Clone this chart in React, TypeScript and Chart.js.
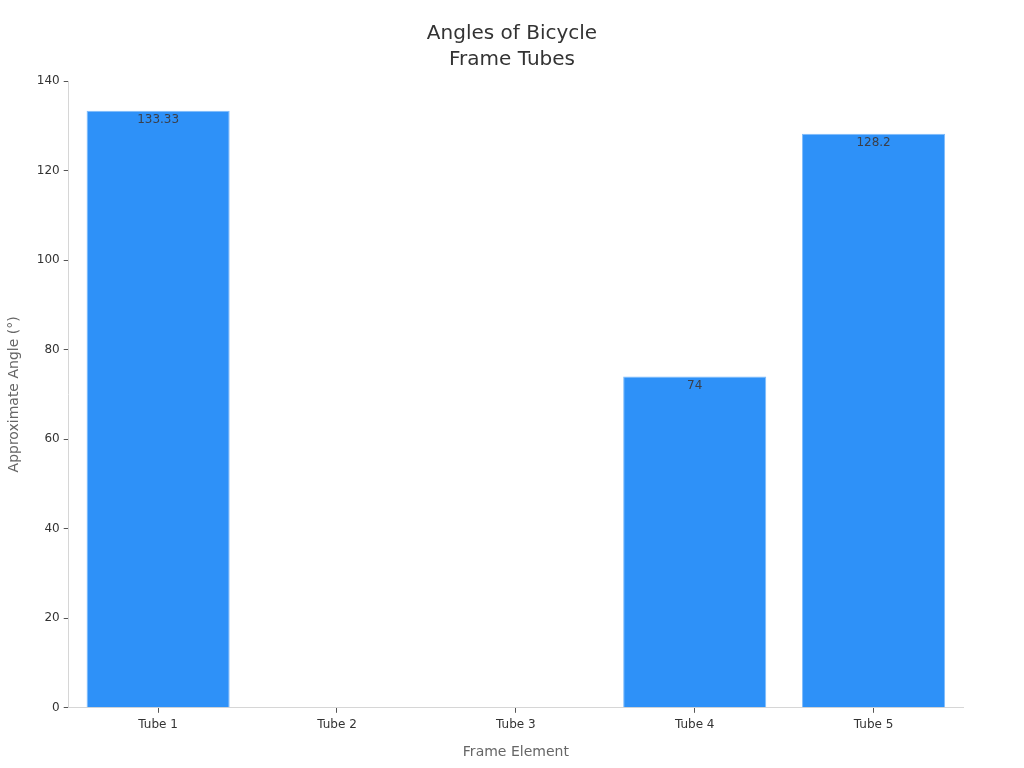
import React, { useEffect, useRef } from "react";
import { Chart, registerables } from "chart.js";

Chart.register(...registerables);

const categories = ["Tube 1", "Tube 2", "Tube 3", "Tube 4", "Tube 5"];
const angles: (number | null)[] = [133.33, null, null, 74, 128.2];
const titleLines = ["Angles of Bicycle", "Frame Tubes"];
const xTitle = "Frame Element";
const yTitle = "Approximate Angle (°)";

const FONT = "'DejaVu Sans', sans-serif";

const valueLabels = {
  id: "valueLabels",
  afterDatasetsDraw(chart: any) {
    const ctx = chart.ctx;
    const meta = chart.getDatasetMeta(0);
    ctx.save();
    ctx.font = `12px ${FONT}`;
    ctx.fillStyle = "#3a3f4a";
    ctx.textAlign = "center";
    ctx.textBaseline = "middle";
    meta.data.forEach((bar: any, i: number) => {
      const v = angles[i];
      if (v === null || v === undefined) return;
      ctx.fillText(String(v), bar.x, bar.y + 9);
    });
    ctx.restore();
  },
};

const centeredTitle = {
  id: "centeredTitle",
  afterDraw(chart: any) {
    const ctx = chart.ctx;
    ctx.save();
    ctx.font = `20px ${FONT}`;
    ctx.fillStyle = "#333333";
    ctx.textAlign = "center";
    ctx.textBaseline = "middle";
    titleLines.forEach((line, i) => {
      ctx.fillText(line, chart.width / 2, 34 + i * 26);
    });
    ctx.restore();
  },
};

export default function App() {
  const ref = useRef<HTMLCanvasElement>(null);
  useEffect(() => {
    document.body.style.margin = "0";
    const chart = new Chart(ref.current!, {
      type: "bar",
      data: {
        labels: categories,
        datasets: [
          {
            data: angles,
            backgroundColor: "#2e91f8",
            borderColor: "#7fbcfb",
            borderWidth: 1,
            barPercentage: 0.8,
            categoryPercentage: 1,
          },
        ],
      },
      options: {
        animation: false,
        responsive: false,
        layout: { padding: { left: 2, right: 61, top: 81, bottom: 3 } },
        plugins: {
          legend: { display: false },
          tooltip: { enabled: false },
          title: { display: false },
        },
        scales: {
          x: {
            grid: {
              drawOnChartArea: false,
              drawTicks: true,
              tickLength: 5,
              offset: false,
              tickColor: "#555555",
            },
            border: { color: "#d6d6d6" },
            ticks: { color: "#333333", font: { family: FONT, size: 12 }, padding: 5 },
            title: {
              display: true,
              text: xTitle,
              color: "#666666",
              font: { family: FONT, size: 14 },
              padding: { top: 7 },
            },
          },
          y: {
            min: 0,
            max: 140,
            ticks: { stepSize: 20, color: "#333333", font: { family: FONT, size: 12 }, padding: 4 },
            grid: {
              drawOnChartArea: false,
              drawTicks: true,
              tickLength: 5,
              tickColor: "#555555",
            },
            border: { color: "#d6d6d6" },
            title: {
              display: true,
              text: yTitle,
              color: "#666666",
              font: { family: FONT, size: 14 },
              padding: { bottom: 10 },
            },
          },
        },
      },
      plugins: [valueLabels, centeredTitle],
    });
    return () => chart.destroy();
  }, []);
  return (
    <div style={{ width: 1024, height: 768, position: "relative" }}>
      <canvas ref={ref} width={1024} height={768} style={{ width: 1024, height: 768 }} />
    </div>
  );
}
